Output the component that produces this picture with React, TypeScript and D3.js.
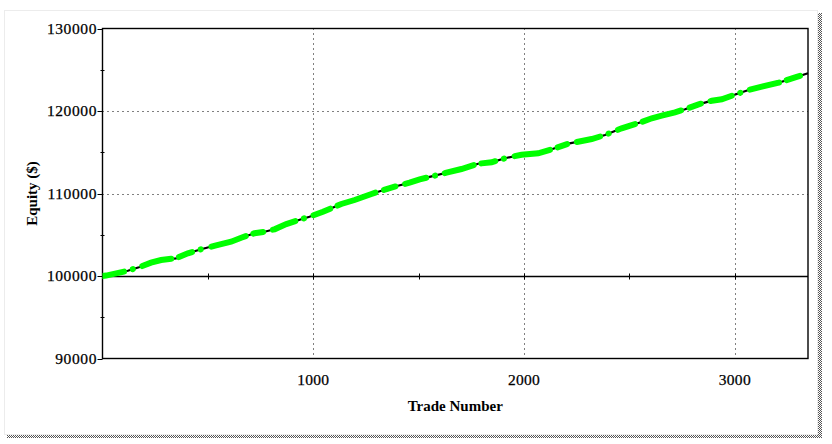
import React from 'react';
import * as d3 from 'd3';

const trades = [0, 17, 120, 173, 230, 278, 349, 405, 468, 539, 610, 658, 721, 769, 816, 872, 943, 982, 1046, 1133, 1196, 1276, 1323, 1402, 1457, 1505, 1576, 1632, 1703, 1782, 1846, 1909, 1988, 2067, 2131, 2210, 2321, 2384, 2463, 2511, 2558, 2606, 2653, 2716, 2764, 2828, 2891, 2938, 3009, 3065, 3128, 3208, 3286, 3347];
const equity = [100000, 100050, 100640, 101055, 101610, 101940, 102145, 102750, 103240, 103720, 104160, 104640, 105180, 105370, 105660, 106300, 106870, 107190, 107790, 108730, 109210, 109940, 110340, 110945, 111310, 111720, 112160, 112520, 112970, 113610, 113780, 114270, 114700, 114870, 115360, 116040, 116600, 117090, 117900, 118300, 118670, 119120, 119430, 119840, 120210, 120810, 121250, 121420, 122060, 122550, 122950, 123430, 124080, 124570];

const yTicks = [90000, 100000, 110000, 120000, 130000];
const yMinorTicks = [95000, 105000, 115000, 125000];
const yGrid = [110000, 120000];
const xTicks = [1000, 2000, 3000];
const xMinorTicks = [500, 1500, 2500];

const L = 102.5, R = 808, T = 28.5, B = 358.5;

export default function App() {
  const x = d3.scaleLinear().domain([0, 3347]).range([L, R]);
  const y = d3.scaleLinear().domain([90000, 130000]).range([B, T]);
  const pts = trades.map((t, i) => [t, equity[i]] as [number, number]);
  const line = d3.line<[number, number]>().x(d => x(d[0])).y(d => y(d[1]));
  const path = line(pts) || '';
  const font = '"Liberation Serif", "Times New Roman", serif';
  const y100 = Math.round(y(100000)) + 0.5;
  return (
    <div style={{ position: 'absolute', left: 0, top: 0 }}>
      <svg width={832} height={444} style={{ display: 'block' }}>
        <defs>
          <pattern id="dither" width="2" height="2" patternUnits="userSpaceOnUse">
            <rect width="2" height="2" fill="#ffffff" />
            <rect x="0" y="0" width="1" height="1" fill="#555555" />
            <rect x="1" y="1" width="1" height="1" fill="#555555" />
          </pattern>
          <clipPath id="plotclip">
            <rect x={L} y={T - 4} width={R - L + 3} height={B - T + 8} />
          </clipPath>
        </defs>
        <rect x={0} y={0} width={832} height={444} fill="#ffffff" />
        <rect x={7} y={13} width={815} height={425} fill="url(#dither)" />
        <rect x={4.5} y={10.5} width={813} height={424} fill="#ffffff" stroke="#ececec" strokeWidth={1} />

        {/* grid */}
        {yGrid.map(v => (
          <line key={'yg' + v} x1={L} x2={R} y1={Math.round(y(v)) + 0.5} y2={Math.round(y(v)) + 0.5}
            stroke="#000" strokeWidth={1} strokeDasharray="1 4" />
        ))}
        {xTicks.map(v => (
          <line key={'xg' + v} x1={Math.round(x(v)) + 0.5} x2={Math.round(x(v)) + 0.5} y1={T} y2={B}
            stroke="#000" strokeWidth={1} strokeDasharray="1 4" />
        ))}

        {/* starting-capital line */}
        <line x1={L} x2={R} y1={y100} y2={y100} stroke="#000" strokeWidth={1.4} />
        {xMinorTicks.concat(xTicks).map(v => (
          <line key={'xm' + v} x1={Math.round(x(v)) + 0.5} x2={Math.round(x(v)) + 0.5} y1={y100 - 3} y2={y100 + 3}
            stroke="#000" strokeWidth={1} />
        ))}

        {/* frame */}
        <rect x={L} y={T} width={R - L} height={B - T} fill="none" stroke="#000" strokeWidth={1.4} />

        {/* y ticks */}
        {yTicks.map(v => (
          <g key={'yt' + v}>
            <line x1={L - 5} x2={L} y1={Math.round(y(v)) + 0.5} y2={Math.round(y(v)) + 0.5} stroke="#000" strokeWidth={1} />
            <text x={97} y={y(v)} dy="0.35em" textAnchor="end" fontFamily={font} fontSize={15.5} letterSpacing={0.6} fill="#000" stroke="#000" strokeWidth={0.25}>{v}</text>
          </g>
        ))}
        {yMinorTicks.map(v => (
          <line key={'ym' + v} x1={L - 2} x2={L + 2} y1={Math.round(y(v)) + 0.5} y2={Math.round(y(v)) + 0.5} stroke="#000" strokeWidth={1} />
        ))}
        {xTicks.map(v => (
          <text key={'xl' + v} x={x(v)} y={380} dy="0.35em" textAnchor="middle" fontFamily={font} fontSize={15.5} letterSpacing={0.3} fill="#000" stroke="#000" strokeWidth={0.25}>{v}</text>
        ))}

        {/* titles */}
        <text x={(L + R) / 2} y={406} dy="0.35em" textAnchor="middle" fontFamily={font} fontSize={15} fontWeight="bold" fill="#000">Trade Number</text>
        <text transform={`translate(32,${(T + B) / 2}) rotate(-90)`} dy="0.35em" textAnchor="middle" fontFamily={font} fontSize={15} fontWeight="bold" fill="#000">Equity ($)</text>

        {/* equity curve */}
        <g clipPath="url(#plotclip)">
          <path d={path} fill="none" stroke="#000" strokeWidth={2.2} />
          <path d={path} fill="none" stroke="#00ff00" strokeWidth={6} strokeLinecap="round"
            strokeDasharray="22 9 0.1 10 30 8 14 9 0.1 11 36 8 10 10 24 9 0.1 10 18 8 40 9 12 10" />
        </g>
      </svg>
    </div>
  );
}
